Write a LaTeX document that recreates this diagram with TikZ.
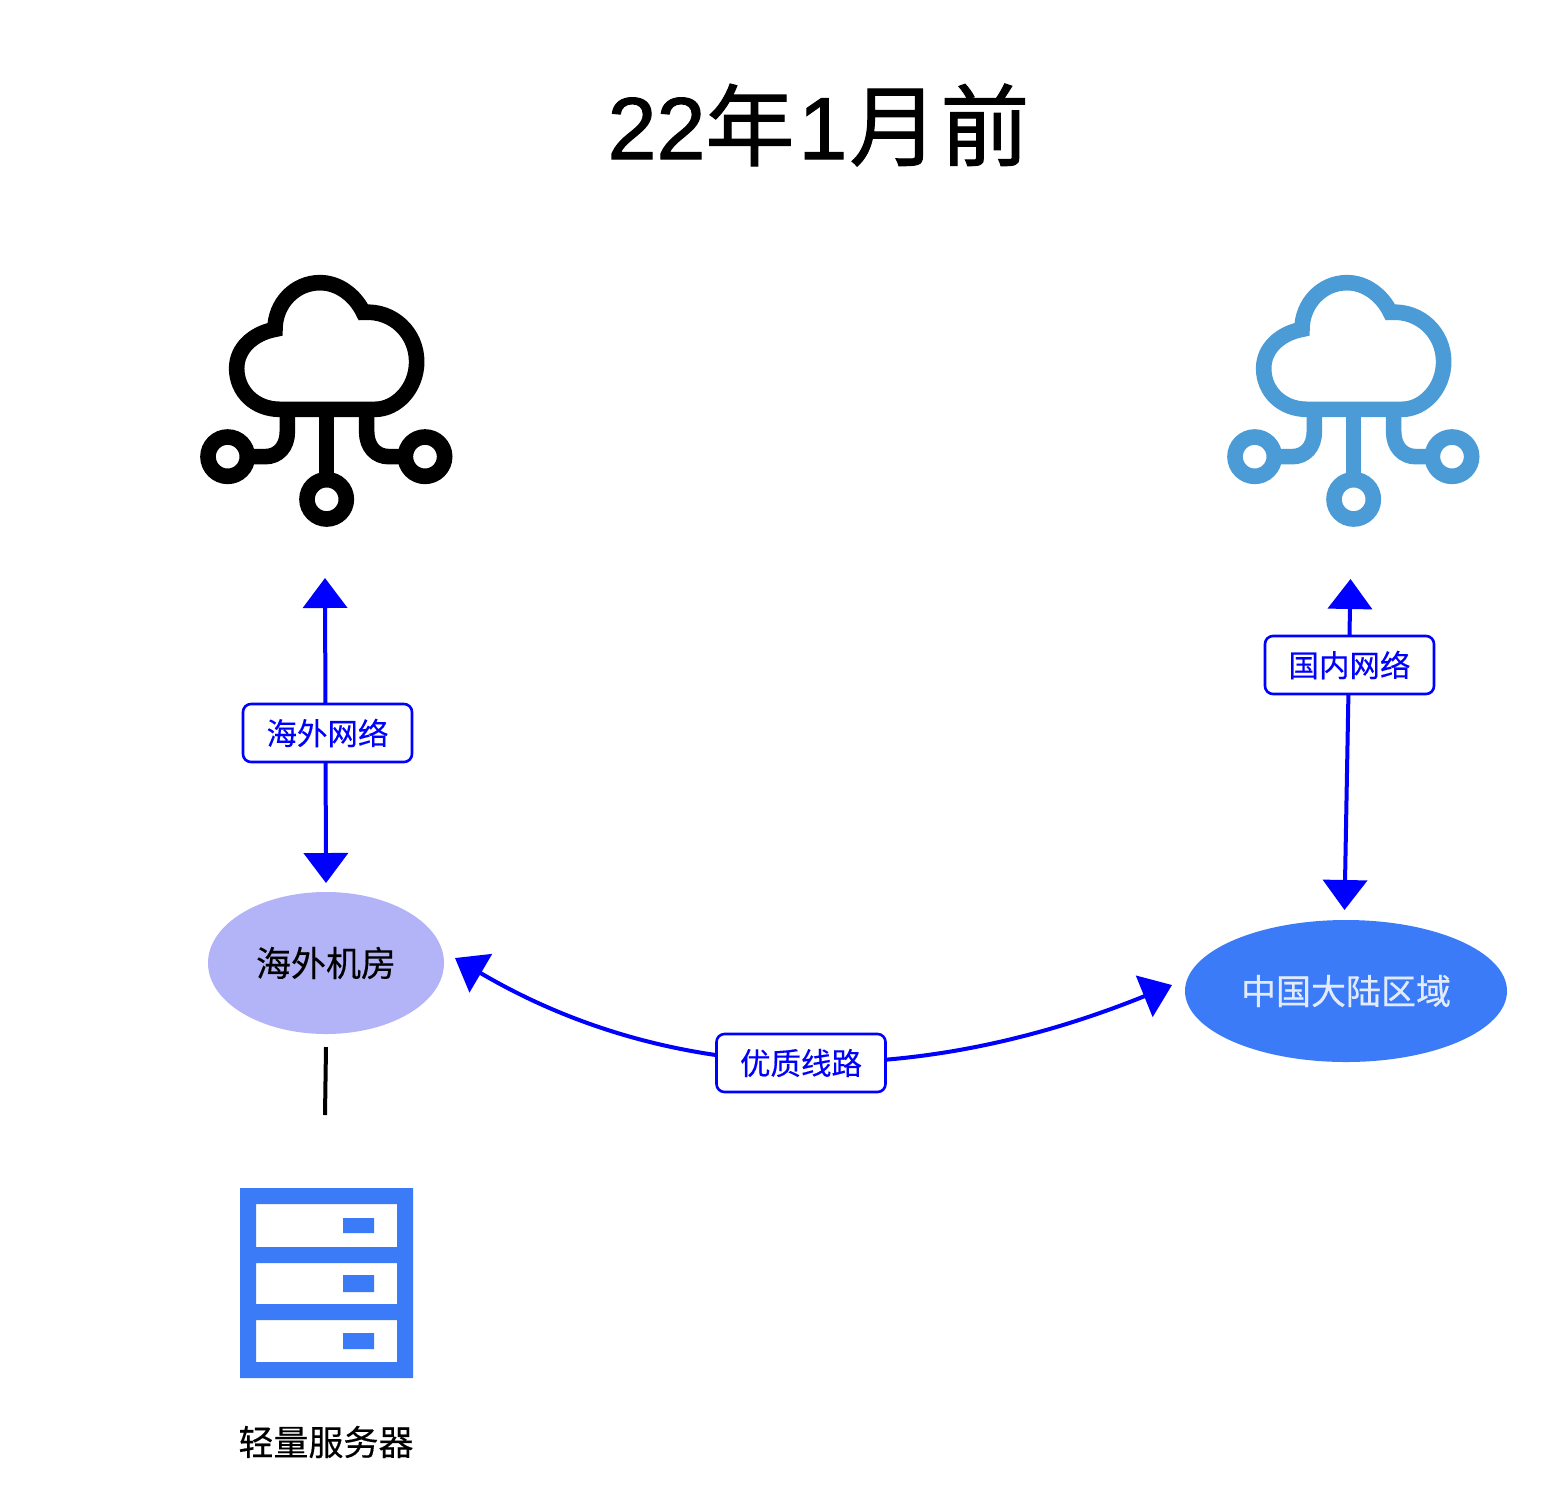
\documentclass[tikz,border=0pt]{standalone}
\usepackage{fontspec}
\setmainfont{Noto Sans CJK SC}[BoldFont={Noto Sans CJK SC},BoldFeatures={FakeBold=0.35}]
\newfontfamily\latinfont{Liberation Sans}[BoldFont={Liberation Sans},BoldFeatures={FakeBold=1.2}]
\newfontfamily\titlefont{Noto Sans CJK SC}[BoldFont={Noto Sans CJK SC},BoldFeatures={FakeBold=1.2}]
\usetikzlibrary{arrows.meta,shapes.geometric}
\definecolor{linkblue}{HTML}{0000FF}
\definecolor{skyicon}{HTML}{4A9BD6}
\definecolor{lavender}{HTML}{B3B3F7}
\definecolor{royal}{HTML}{3B7BF8}
\tikzset{
  iconline/.style={line width=15.6pt,line join=miter,fill=none},
  linkarrow/.style={draw=linkblue,line width=4pt,{Triangle[width=44pt,length=30pt]}-{Triangle[width=44pt,length=30pt]}},
  linklabel/.style={draw=linkblue,fill=white,line width=2.6pt,rounded corners=8pt,minimum width=169pt,minimum height=58pt,inner sep=0pt,text=linkblue,font=\bfseries\fontsize{30.5}{34}\selectfont},
  room/.style={ellipse,draw=none,inner sep=0pt,font=\bfseries\fontsize{35}{40}\selectfont},
  caption/.style={inner sep=0pt,font=\bfseries\fontsize{35}{40}\selectfont},
}
\newcommand{\cloudicon}[3]{%
  \begin{scope}[shift={(#1,#2)},x=0.33333pt,y=-0.33333pt,draw=#3]
    \draw[iconline] (270,448) .. controls (195,448) and (140,395) .. (140,325)
      .. controls (140,265) and (190,220) .. (255,208)
      .. controls (255,130) and (315,68) .. (390,68)
      .. controls (445,68) and (495,105) .. (520,157)
      .. controls (610,150) and (680,220) .. (680,305)
      .. controls (680,385) and (620,448) .. (555,448) -- cycle;
    \draw[iconline] (409,448) -- (409,660);
    \draw[iconline] (292,448) -- (292,515) .. controls (292,560) and (265,590) .. (225,590) -- (170,590);
    \draw[iconline] (530,448) -- (530,515) .. controls (530,560) and (557,590) .. (597,590) -- (650,590);
    \draw[iconline,fill=white] (113,590) circle[radius=59];
    \draw[iconline,fill=white] (705,590) circle[radius=59];
    \draw[iconline,fill=white] (410,718) circle[radius=59];
  \end{scope}}
\begin{document}
\begin{tikzpicture}[x=1pt,y=-1pt]
  \path[use as bounding box,fill=white] (0,0) rectangle (1568,1508);
  \node[inner sep=0pt,font=\bfseries\titlefont\fontsize{89}{96}\selectfont] (title) at (818.5,125) {{\latinfont\bfseries\fontsize{88}{96}\selectfont 22}年\kern4pt{\latinfont\bfseries\fontsize{88}{96}\selectfont 1}\kern2pt月\kern2pt前};
  \cloudicon{190}{260}{black}
  \cloudicon{1217}{260}{skyicon}
  \node[room,fill=lavender,minimum width=236pt,minimum height=142pt,text=black] (overseas) at (326,963) {海外机房};
  \node[room,fill=royal,minimum width=322pt,minimum height=142pt,text=white!85!royal] (china) at (1346,991) {中国大陆区域};
  \coordinate (cloudLbot) at (325,578);
  \coordinate (roomLtop) at (326,883);
  \coordinate (cloudRbot) at (1350.5,579);
  \coordinate (roomRtop) at (1344.5,910);
  \coordinate (curveL) at (455,958);
  \coordinate (curveR) at (1172,985);
  \coordinate (stubTop) at (326,1047);
  \coordinate (stubBot) at (325,1115);
  \draw[linkarrow] (cloudLbot) -- (roomLtop);
  \node[linklabel] (lblL) at (327.5,733) {海外网络};
  \draw[linkarrow] (cloudRbot) -- (roomRtop);
  \node[linklabel] (lblR) at (1349.5,665) {国内网络};
  \draw[linkarrow] (curveL) .. controls (669,1084) and (908,1092) .. (curveR);
  \node[linklabel] (lblM) at (801,1063) {优质线路};
  \draw[black,line width=4pt] (stubTop) -- (stubBot);
  % server
  \fill[royal,even odd rule] (240,1188) rectangle (413,1378)
    (256,1204) rectangle (397,1247)
    (256,1263) rectangle (397,1304)
    (256,1320) rectangle (397,1362);
  \fill[royal] (343,1218) rectangle (374,1233)
    (343,1275) rectangle (374,1292)
    (343,1333) rectangle (374,1349);
  \node[caption] (srv) at (326,1442) {轻量服务器};
\end{tikzpicture}
\end{document}
